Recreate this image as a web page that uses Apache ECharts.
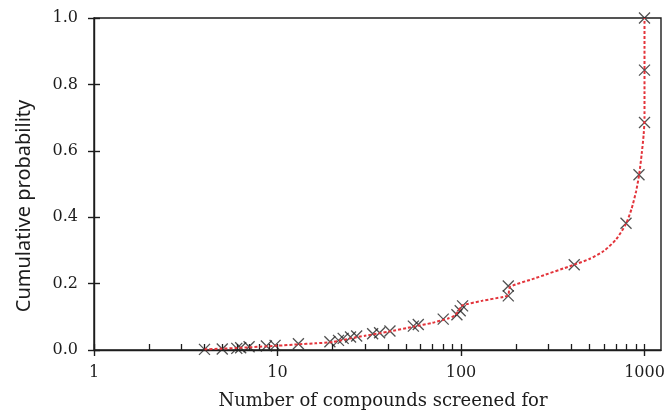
<!DOCTYPE html>
<html><head><meta charset="utf-8">
<script src="https://cdn.jsdelivr.net/npm/echarts@6/dist/echarts.min.js"></script>
<style>html,body{margin:0;padding:0;background:#fff}#c{width:667px;height:410px}</style>
</head><body><div id="c"></div>
<script>
// Observed screening data (number of compounds, cumulative probability)
const compounds   = [4, 5, 6, 6.3, 7, 8.7, 9.7, 13, 19.3, 21.5, 22.8, 25, 27, 33, 36, 41, 55, 58.5, 80, 95, 99, 102, 181, 181, 414, 793, 933, 1000, 1000, 1000];
const probability = [0.002, 0.003, 0.005, 0.007, 0.010, 0.012, 0.014, 0.019, 0.025, 0.029, 0.035, 0.039, 0.042, 0.049, 0.052, 0.057, 0.072, 0.077, 0.093, 0.106, 0.118, 0.133, 0.163, 0.193, 0.257, 0.382, 0.528, 0.685, 0.843, 1.0];
// Fitted curve (red dotted)
const fitCompounds   = [4, 5, 6, 7, 8, 10, 13, 16, 20, 25, 30, 40, 55, 70, 85, 92, 96, 100, 102, 130, 170, 181, 185, 250, 414, 500, 600, 700, 793, 850, 900, 935, 965, 990, 1000, 1000];
const fitProbability = [0.002, 0.004, 0.006, 0.008, 0.010, 0.013, 0.017, 0.020, 0.024, 0.035, 0.043, 0.055, 0.070, 0.082, 0.095, 0.103, 0.115, 0.130, 0.135, 0.148, 0.160, 0.165, 0.190, 0.215, 0.257, 0.274, 0.298, 0.333, 0.380, 0.425, 0.478, 0.528, 0.590, 0.650, 0.700, 1.0];
const xMajorTicks = [1, 10, 100, 1000];
const xMinorTicks = [2,3,4,5,6,7,8,9,20,30,40,50,60,70,80,90,200,300,400,500,600,700,800,900];
const yTicks = [0, 0.2, 0.4, 0.6, 0.8, 1.0];
const xTitle = 'Number of compounds screened for';
const yTitle = 'Cumulative probability';

const pts = compounds.map((c, i) => [c, probability[i]]);
const fit = fitCompounds.map((c, i) => [c, fitProbability[i]]);
const ink = '#1c1c1c';
const serif = '"DejaVu Serif", serif';

const chart = echarts.init(document.getElementById('c'), null, {renderer: 'canvas'});
chart.setOption({
  animation: false,
  backgroundColor: '#fff',
  grid: {left: 94, right: 6, top: 18, bottom: 60, containLabel: false, outerBoundsMode: 'none',
         show: true, borderColor: ink, borderWidth: 1.4, backgroundColor: 'transparent'},
  xAxis: [{
    type: 'log', logBase: 10, min: 1, max: 1230, position: 'bottom',
    axisLine: {lineStyle: {color: ink, width: 1.4}},
    axisTick: {customValues: xMajorTicks, length: 6, lineStyle: {color: ink, width: 1.4}},
    axisLabel: {customValues: xMajorTicks, margin: 15, color: ink, fontFamily: serif, fontSize: 16, formatter: v => String(Math.round(v))},
    splitLine: {show: false}, minorTick: {show: false},
    name: xTitle, nameLocation: 'middle', nameGap: 42,
    nameTextStyle: {color: ink, fontFamily: serif, fontSize: 18, padding: [0, 0, 0, 11]}
  }, {
    type: 'log', logBase: 10, min: 1, max: 1230, position: 'bottom',
    axisLine: {show: false},
    axisTick: {inside: true, customValues: xMinorTicks.concat(xMajorTicks), length: 6, lineStyle: {color: ink, width: 1.3}},
    axisLabel: {show: false}, splitLine: {show: false}
  }],
  yAxis: [{
    type: 'value', min: 0, max: 1, interval: 0.2, position: 'left',
    axisLine: {show: true, lineStyle: {color: ink, width: 1.4}},
    axisTick: {show: true, length: 6, lineStyle: {color: ink, width: 1.4}},
    axisLabel: {customValues: yTicks, margin: 16, color: ink, fontFamily: serif, fontSize: 16, formatter: v => v.toFixed(1)},
    splitLine: {show: false},
    name: yTitle, nameLocation: 'middle', nameGap: 60, nameRotate: 90,
    nameTextStyle: {color: ink, fontFamily: '"Noto Sans", sans-serif', fontSize: 20, padding: [0, 44, 0, 0]}
  }, {
    type: 'value', min: 0, max: 1, interval: 0.2, position: 'left',
    axisLine: {show: false},
    axisTick: {show: true, inside: true, length: 6, lineStyle: {color: ink, width: 1.4}},
    axisLabel: {show: false}, splitLine: {show: false}
  }],
  series: [{
    type: 'line', data: fit, xAxisIndex: 0, yAxisIndex: 0,
    showSymbol: false, smooth: 0.2, z: 3,
    lineStyle: {color: '#e3343b', width: 2, type: [3, 2]}
  }, {
    type: 'scatter', data: pts, xAxisIndex: 0, yAxisIndex: 0, z: 2,
    symbol: 'path://M0 0L10 10M10 0L0 10', symbolSize: 11,
    itemStyle: {color: 'rgba(0,0,0,0)', borderColor: '#262626', borderWidth: 1.3}
  }]
});
</script></body></html>
